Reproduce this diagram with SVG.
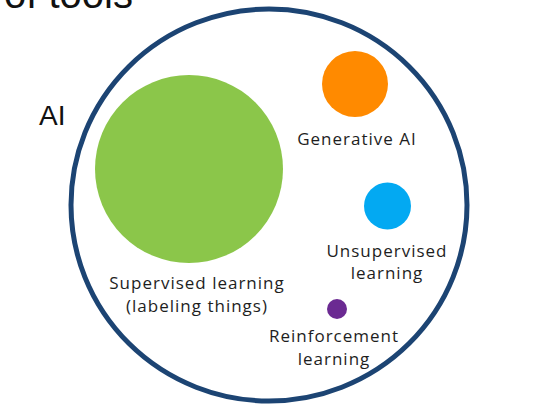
<svg xmlns="http://www.w3.org/2000/svg" width="538" height="414" viewBox="0 0 538 414">
<style>
.lbl{font-family:"Open Sans","Liberation Sans",sans-serif;font-size:17px;letter-spacing:1px;fill:#1e1e1e;text-anchor:middle}
.big{font-family:"Liberation Sans",Arial,sans-serif;fill:#111}
</style>
<rect width="538" height="414" fill="#ffffff"/>
<text class="big" x="133" y="8" font-size="40" text-anchor="end">of tools</text>
<text class="big" x="39" y="125" font-size="28">AI</text>
<g id="ai">
<ellipse cx="269" cy="205" rx="198" ry="196" fill="none" stroke="#1c4473" stroke-width="5"/>
</g>
<g id="supervised">
<circle cx="189" cy="169" r="94" fill="#8bc64a"/>
<text class="lbl" x="197" y="289">Supervised learning</text>
<text class="lbl" x="197" y="312">(labeling things)</text>
</g>
<g id="generative">
<circle cx="355" cy="84" r="33" fill="#ff8a00"/>
<text class="lbl" x="357" y="145">Generative AI</text>
</g>
<g id="unsupervised">
<circle cx="387.5" cy="206" r="23.5" fill="#03a9f2"/>
<text class="lbl" x="387" y="257">Unsupervised</text>
<text class="lbl" x="387" y="279">learning</text>
</g>
<g id="reinforcement">
<circle cx="337" cy="309" r="10" fill="#6b2a92"/>
<text class="lbl" x="334" y="342">Reinforcement</text>
<text class="lbl" x="334" y="365">learning</text>
</g>
<g id="connectors"/>
</svg>
